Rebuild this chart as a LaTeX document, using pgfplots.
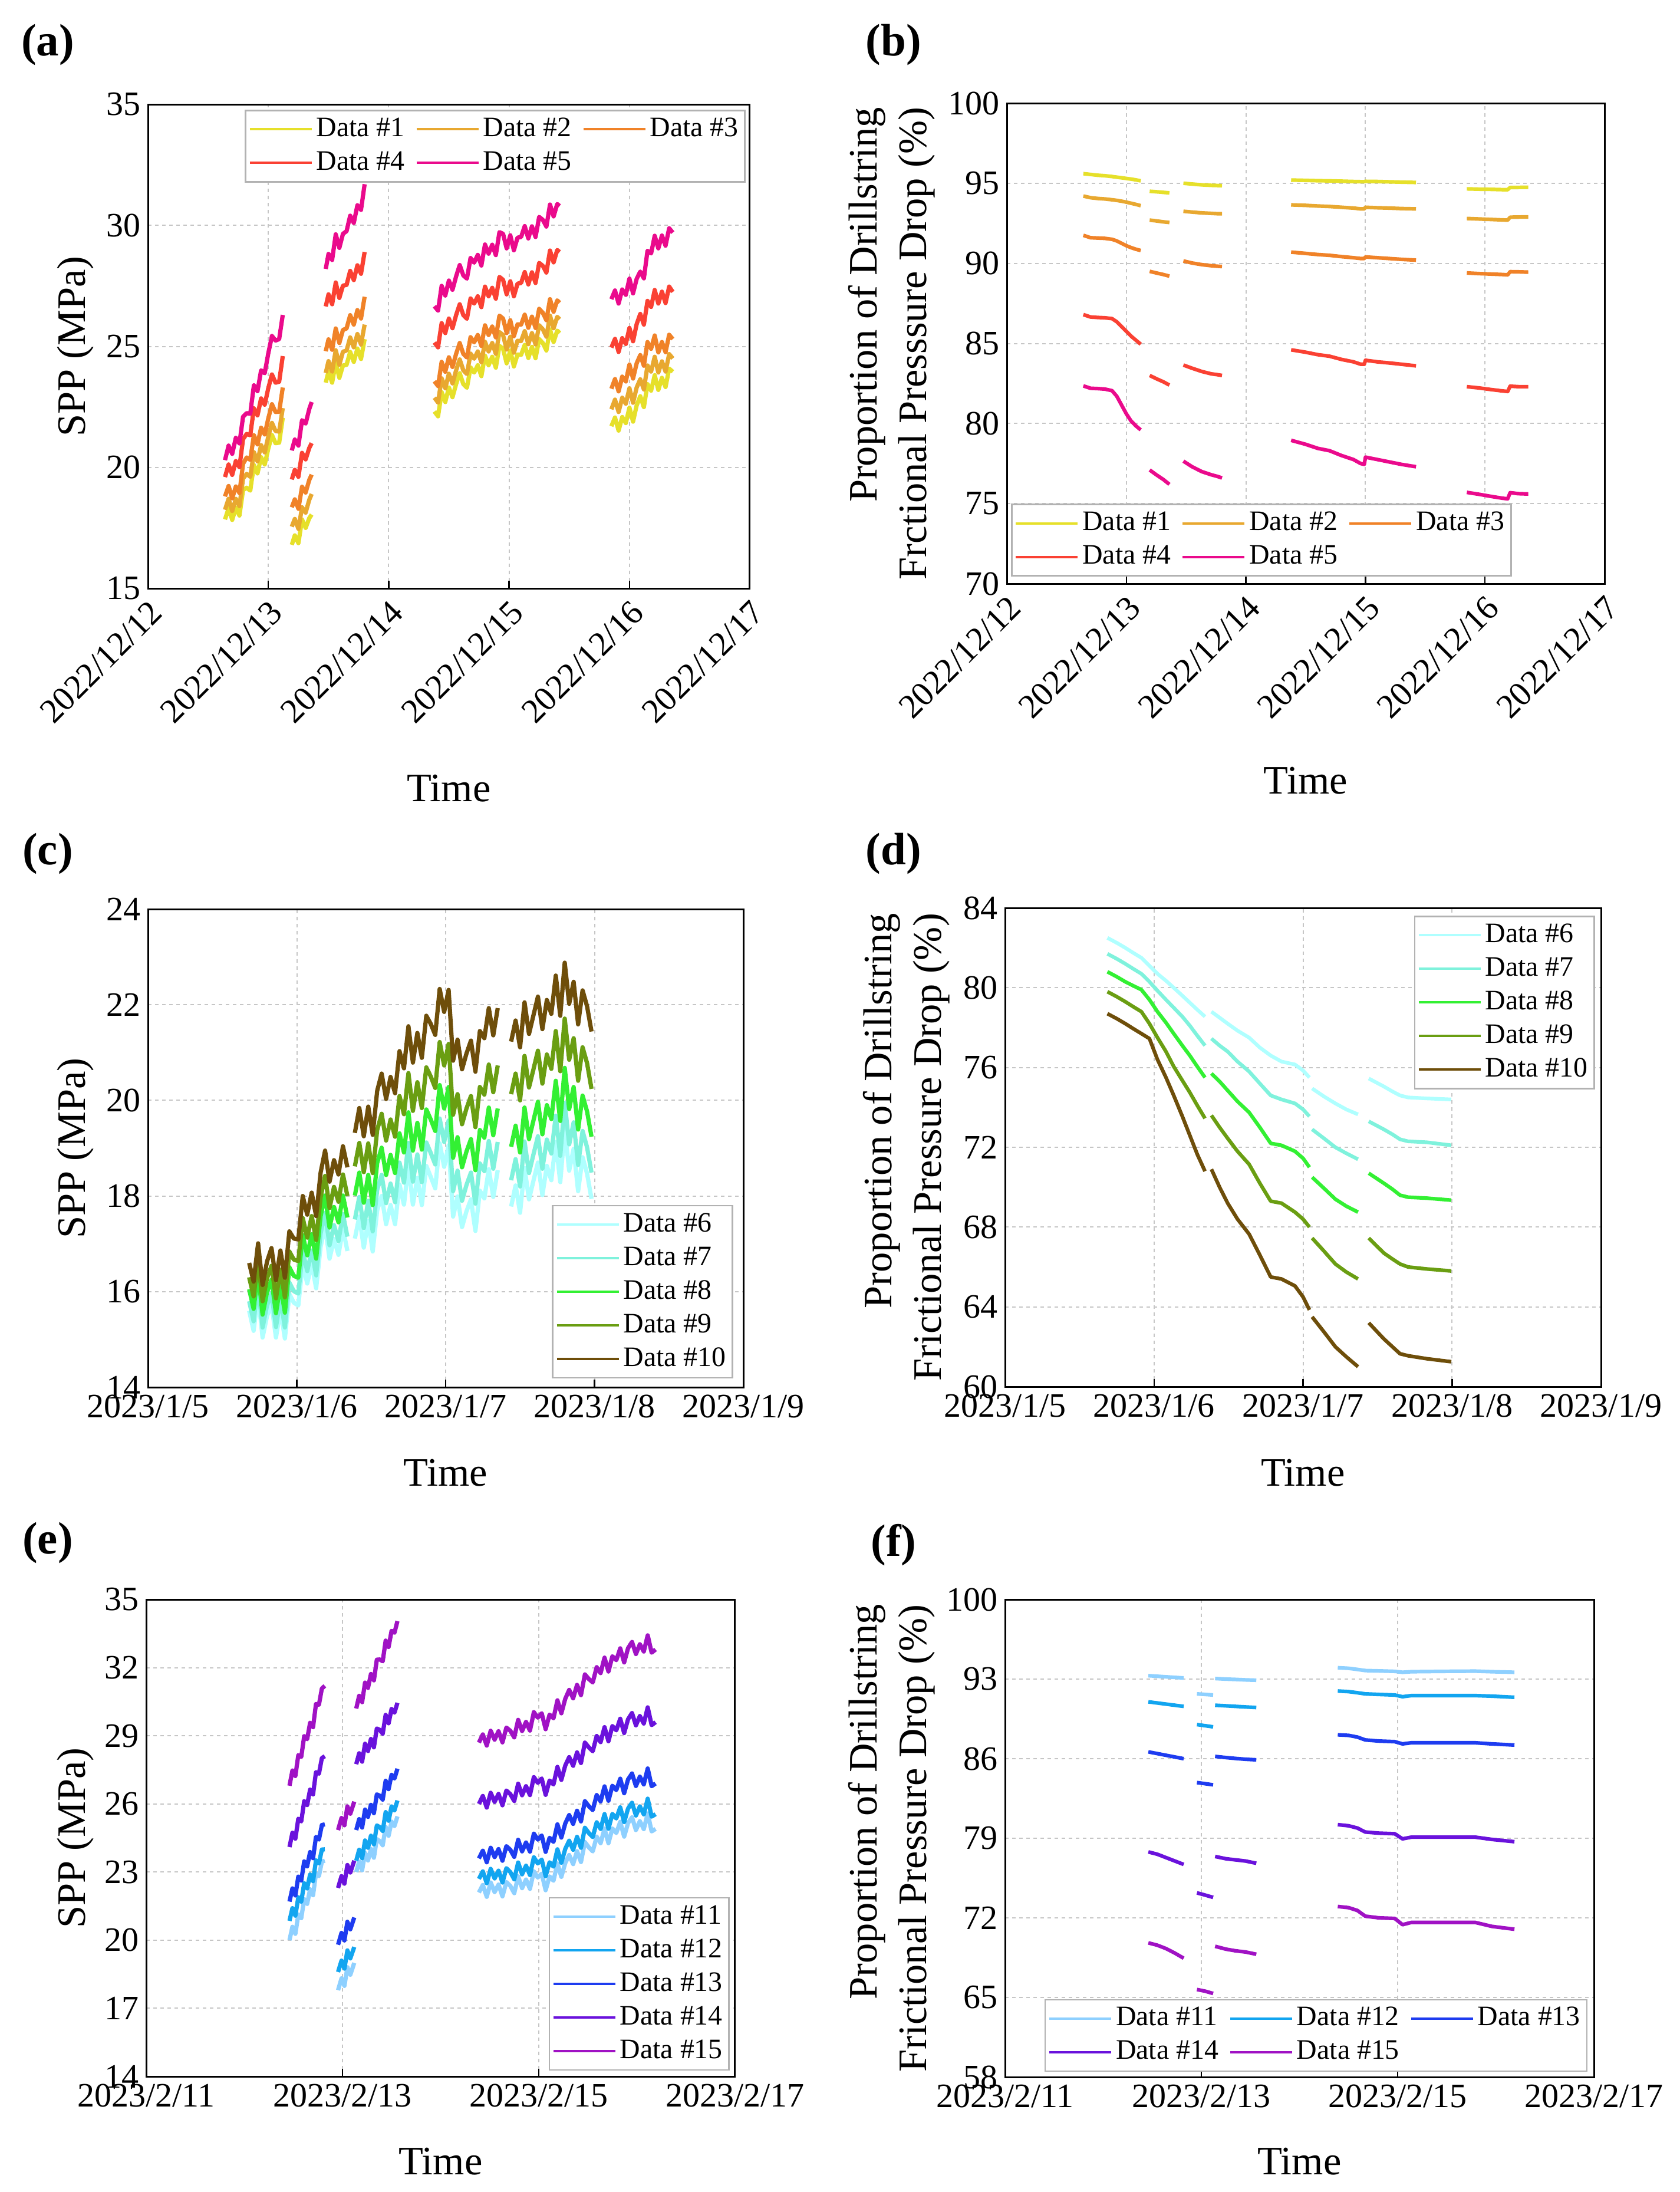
\documentclass[border=0pt]{standalone}
\usepackage{fontspec}
\setmainfont{Liberation Serif}
\usepackage{pgfplots}
\pgfplotsset{compat=1.18}
\usepackage{pgfplotstable}

\definecolor{cA}{HTML}{E6E02A}
\definecolor{cB}{HTML}{E8A830}
\definecolor{cC}{HTML}{F08228}
\definecolor{cD}{HTML}{FA4133}
\definecolor{cE}{HTML}{EA0A8C}
\definecolor{cF}{HTML}{AFFFFF}
\definecolor{cG}{HTML}{7FF2DC}
\definecolor{cH}{HTML}{33F033}
\definecolor{cI}{HTML}{6A9E12}
\definecolor{cJ}{HTML}{6E4E0A}
\definecolor{cK}{HTML}{8ED0FF}
\definecolor{cL}{HTML}{12A5F0}
\definecolor{cM}{HTML}{1E3CF0}
\definecolor{cN}{HTML}{6A12DC}
\definecolor{cO}{HTML}{A012C4}

\newcommand{\fTk}{\fontsize{16.5}{19}\selectfont}
\newcommand{\fLb}{\fontsize{19.5}{23.9}\selectfont}
\newcommand{\fLg}{\fontsize{13.6}{16}\selectfont}
\newcommand{\fPl}{\bfseries\fontsize{21.9}{25}\selectfont}

\pgfplotsset{
  panel/.style={
    scale only axis, anchor=north west,
    axis line style={line width=0.3mm},
    tick align=inside, xtick pos=lower, ytick pos=left,
    ytick style={draw=none},
    xtick style={line width=0.25mm, black},
    major tick length=1.3mm,
    grid=major,
    major grid style={draw=gray!45, line width=0.2mm, dash pattern=on 0.6mm off 0.6mm},
    tick label style={font=\fTk},
    label style={font=\fLb},
    /pgf/number format/assume math mode=true,
    unbounded coords=jump,
    legend cell align=left,
    legend image code/.code={\draw[##1, line width=0.4mm] (0mm,0mm) -- (10.5mm,0mm);},
    legend style={font=\fLg, draw=gray!60, line width=0.25mm, fill=white, inner sep=0.5mm,
       nodes={inner sep=0.6mm, text height=3.3mm, text depth=0.9mm},
       row sep=0.3mm,
       /tikz/every even column/.append style={column sep=1.2mm}},
    every axis plot/.append style={line width=0.62mm, line join=round},
    ylabel style={anchor=center},
    xlabel style={anchor=center},
  },
  noisy/.style={every axis plot/.append style={line width=0.72mm}},
}

% ---------- panel (a): columns e=#5 d=#4 c=#3 b=#2 a=#1
\pgfplotstableread{
x e d c b a
0.64 20.30 19.60 18.80 18.25 17.85
0.67 20.90 20.12 19.23 18.70 18.31
0.70 20.56 19.69 18.72 18.20 17.83
0.73 21.22 20.26 19.21 18.70 18.34
0.76 20.99 20.01 18.94 18.40 18.01
0.79 22.09 21.17 20.15 19.54 19.06
0.82 22.24 21.38 20.41 19.73 19.16
0.85 22.22 21.33 20.31 19.61 19.04
0.88 23.39 22.44 21.33 20.63 20.10
0.91 23.15 22.15 20.95 20.25 19.75
0.94 24.01 22.85 21.64 20.92 20.42
0.97 23.89 22.59 21.36 20.62 20.12
1.00 24.72 23.28 22.03 21.28 20.78
1.03 25.43 23.84 22.61 21.84 21.34
1.06 25.24 23.50 22.29 21.50 21.00
1.09 25.30 23.54 22.30 21.48 21.02
1.12 26.30 24.60 23.30 22.45 22.05
nan nan nan nan nan nan
1.195 20.70 19.50 18.35 17.55 16.80
1.22 21.15 19.90 18.68 17.87 17.19
1.25 20.90 19.61 18.29 17.46 16.87
1.28 21.95 20.60 19.20 18.35 17.85
1.31 21.81 20.33 18.96 18.13 17.50
1.34 22.41 20.80 19.48 18.66 17.90
1.36 22.70 21.00 19.70 18.90 18.05
nan nan nan nan nan nan
1.477 28.20 26.65 24.80 23.90 23.50
1.50 28.82 27.15 25.29 24.39 23.96
1.53 28.57 26.74 24.86 23.96 23.50
1.56 29.63 27.64 25.74 24.84 24.34
1.59 29.07 27.00 25.14 24.24 23.70
1.62 29.65 27.51 25.68 24.78 24.21
1.65 29.76 27.54 25.74 24.83 24.24
1.68 30.40 28.12 26.29 25.37 24.77
1.71 30.10 27.74 25.90 24.96 24.36
1.74 30.83 28.35 26.50 25.51 24.91
1.77 30.64 28.00 26.15 25.08 24.48
1.80 31.70 28.90 27.05 25.90 25.30
nan nan nan nan nan nan
2.38 26.66 25.16 23.56 22.88 22.31
2.41 26.48 24.96 23.36 22.68 22.11
2.44 27.50 25.96 24.36 23.68 23.11
2.47 27.10 25.55 23.95 23.27 22.70
2.50 27.72 26.15 24.55 23.87 23.30
2.53 27.34 25.75 24.15 23.47 22.90
2.56 27.89 26.29 24.69 24.01 23.44
2.59 28.36 26.74 25.14 24.46 23.89
2.62 27.93 26.29 24.69 24.01 23.44
2.65 27.80 26.14 24.54 23.86 23.29
2.68 28.65 26.98 25.38 24.70 24.13
2.71 28.46 26.77 25.17 24.49 23.92
2.74 28.78 27.07 25.47 24.79 24.22
2.77 28.34 26.62 25.02 24.34 23.77
2.80 29.21 27.47 25.87 25.19 24.62
2.83 28.83 27.07 25.47 24.79 24.22
2.86 29.20 27.42 25.82 25.14 24.57
2.89 28.77 26.97 25.37 24.69 24.12
2.92 29.72 27.87 26.27 25.59 25.02
2.95 29.65 27.75 26.15 25.47 24.90
2.98 29.05 27.15 25.55 24.87 24.30
3.01 29.59 27.69 26.08 25.40 24.83
3.04 28.97 27.07 25.42 24.74 24.17
3.07 29.49 27.59 25.91 25.23 24.66
3.10 29.52 27.62 25.90 25.22 24.65
3.13 29.97 28.07 26.31 25.63 25.06
3.16 29.46 27.56 25.77 25.09 24.52
3.19 29.96 28.06 26.23 25.55 24.98
3.22 29.52 27.62 25.76 25.08 24.51
3.25 30.35 28.45 26.55 25.87 25.30
3.28 30.23 28.33 26.39 25.71 25.14
3.31 29.95 28.05 26.08 25.40 24.83
3.34 30.86 28.96 26.95 26.27 25.70
3.37 30.37 28.47 26.43 25.75 25.18
3.40 30.88 28.98 26.90 26.22 25.65
3.42 30.80 28.90 26.80 26.12 25.55
nan nan nan nan nan nan
3.85 26.95 24.95 23.25 22.40 21.70
3.88 27.31 25.31 23.65 22.80 22.06
3.91 26.77 24.77 23.14 22.29 21.52
3.94 27.35 25.34 23.75 22.88 22.08
3.97 27.13 25.10 23.55 22.63 21.83
4.00 27.80 25.76 24.25 23.27 22.47
4.03 27.19 25.21 23.67 22.67 21.89
4.06 27.79 25.92 24.30 23.30 22.56
4.09 28.09 26.34 24.64 23.64 22.94
4.12 27.81 25.90 24.20 23.22 22.49
4.15 28.95 26.88 25.18 24.21 23.44
4.18 28.84 26.63 24.90 23.96 23.17
4.21 29.57 27.33 25.45 24.57 23.81
4.24 29.05 26.77 24.75 23.92 23.20
4.27 29.58 27.26 25.18 24.38 23.70
4.30 29.16 26.79 24.76 23.96 23.32
4.33 29.88 27.47 25.48 24.68 24.08
4.36 29.70 27.25 25.30 24.50 23.95
}\tabA

% ---------- panel (b): a=#1 ... e=#5
\pgfplotstableread{
x a b c d e
0.64 95.60 94.20 91.75 86.80 82.35
0.70 95.55 94.10 91.60 86.65 82.20
0.76 95.50 94.05 91.58 86.62 82.18
0.82 95.47 94.02 91.56 86.60 82.15
0.88 95.42 93.97 91.50 86.55 82.05
0.92 95.38 93.93 91.40 86.35 81.70
0.96 95.34 93.88 91.25 86.05 81.15
1.00 95.30 93.82 91.10 85.75 80.60
1.04 95.26 93.75 90.98 85.45 80.15
1.08 95.21 93.68 90.88 85.20 79.85
1.12 95.15 93.60 90.80 84.95 79.60
nan nan nan nan nan nan
1.195 94.50 92.70 89.50 83.00 77.10
1.25 94.47 92.65 89.40 82.80 76.80
1.31 94.43 92.59 89.30 82.60 76.50
1.36 94.40 92.55 89.20 82.40 76.20
nan nan nan nan nan nan
1.477 95.00 93.25 90.15 83.65 77.65
1.55 94.95 93.20 90.02 83.45 77.30
1.63 94.90 93.15 89.92 83.25 77.00
1.71 94.87 93.12 89.85 83.10 76.80
1.76 94.86 93.10 89.82 83.05 76.70
1.80 94.85 93.10 89.80 83.00 76.60
nan nan nan nan nan nan
2.378 95.20 93.65 90.70 84.60 78.95
2.50 95.18 93.62 90.62 84.45 78.70
2.60 95.16 93.58 90.55 84.30 78.45
2.70 95.15 93.55 90.50 84.20 78.30
2.80 95.13 93.50 90.42 84.00 78.00
2.90 95.11 93.45 90.35 83.85 77.75
2.96 95.10 93.40 90.30 83.70 77.50
2.99 95.10 93.40 90.30 83.70 77.45
3.00 95.12 93.50 90.40 83.95 77.90
3.10 95.11 93.47 90.35 83.85 77.75
3.20 95.09 93.45 90.30 83.78 77.60
3.30 95.07 93.42 90.25 83.70 77.45
3.423 95.05 93.40 90.20 83.60 77.30
nan nan nan nan nan nan
3.848 94.65 92.80 89.40 82.30 75.70
3.95 94.63 92.77 89.36 82.22 75.58
4.05 94.62 92.74 89.33 82.12 75.45
4.15 94.60 92.71 89.30 82.03 75.33
4.19 94.60 92.70 89.28 82.00 75.30
4.21 94.74 92.88 89.48 82.33 75.68
4.28 94.74 92.89 89.47 82.30 75.62
4.362 94.75 92.90 89.45 82.30 75.60
}\tabB

% ---------- panel (c): j=#10 i=#9 h=#8 g=#7 f=#6
\pgfplotstableread{
x j i h g f
0.68 16.60 16.30 16.05 15.80 15.60
0.71 16.21 15.90 15.64 15.38 15.18
0.74 17.01 16.68 16.41 16.15 15.94
0.77 16.14 15.80 15.52 15.25 15.04
0.80 16.63 16.28 15.99 15.71 15.49
0.83 16.91 16.54 16.25 15.96 15.74
0.86 16.24 15.86 15.55 15.26 15.04
0.89 16.86 16.46 16.15 15.85 15.62
0.92 16.29 15.88 15.56 15.25 15.02
0.95 17.26 16.84 16.51 16.19 15.95
0.98 17.11 16.67 16.33 16.01 15.77
1.01 17.09 16.64 16.29 15.96 15.71
1.04 18.00 17.54 17.18 16.85 16.59
1.07 17.61 17.13 16.76 16.43 16.17
1.10 18.07 17.58 17.20 16.86 16.59
1.13 17.58 17.08 16.69 16.34 16.07
1.16 18.49 17.97 17.58 17.22 16.94
1.19 18.95 18.42 18.01 17.65 17.37
1.22 18.30 17.75 17.34 16.97 16.69
1.25 18.75 18.19 17.77 17.39 17.10
1.28 18.45 17.88 17.45 17.06 16.77
1.31 19.04 18.45 18.01 17.62 17.32
1.34 18.60 18.00 17.55 17.15 16.85
nan nan nan nan nan nan
1.39 19.32 18.62 18.01 17.51 17.11
1.42 19.84 19.11 18.49 17.98 17.57
1.45 19.25 18.50 17.86 17.33 16.92
1.48 19.87 19.10 18.44 17.90 17.48
1.51 19.28 18.48 17.81 17.26 16.84
1.54 20.20 19.38 18.69 18.13 17.70
1.57 20.56 19.72 19.01 18.44 18.00
1.60 20.03 19.16 18.44 17.85 17.41
1.63 20.49 19.60 18.86 18.26 17.81
1.66 20.15 19.24 18.48 17.87 17.41
1.69 21.03 20.09 19.31 18.70 18.24
1.72 20.67 19.71 18.91 18.28 17.82
1.75 21.55 20.57 19.75 19.11 18.64
1.78 20.79 19.78 18.95 18.30 17.82
1.81 21.41 20.38 19.53 18.87 18.38
1.84 20.89 19.84 18.97 18.29 17.81
1.87 21.77 20.69 19.81 19.12 18.63
1.90 21.60 20.50 19.60 18.90 18.40
1.93 21.37 20.26 19.36 18.66 18.16
1.96 22.33 21.22 20.32 19.62 19.10
1.99 21.85 20.73 19.83 19.13 18.61
2.02 22.31 21.18 20.28 19.58 19.06
2.05 20.83 19.70 18.80 18.10 17.57
2.08 21.27 20.13 19.23 18.53 17.99
2.11 20.65 19.50 18.60 17.90 17.35
2.14 20.98 19.83 18.93 18.23 17.68
2.17 21.25 20.09 19.19 18.49 17.93
2.20 20.60 19.44 18.54 17.84 17.27
2.23 21.45 20.28 19.38 18.68 18.11
2.26 21.30 20.12 19.22 18.52 17.95
2.29 21.93 20.75 19.85 19.15 18.56
2.32 21.36 20.17 19.27 18.57 17.98
2.35 21.93 20.73 19.83 19.13 18.54
nan nan nan nan nan nan
2.44 21.23 20.13 19.03 18.33 17.78
2.47 21.67 20.56 19.47 18.77 18.22
2.50 21.11 20.00 18.91 18.20 17.65
2.53 22.05 20.93 19.85 19.14 18.59
2.56 21.39 20.27 19.19 18.48 17.93
2.59 21.78 20.65 19.58 18.87 18.32
2.62 22.17 21.04 19.97 19.25 18.70
2.65 21.49 20.35 19.29 18.57 18.02
2.68 22.10 20.96 19.90 19.18 18.63
2.71 21.81 20.66 19.61 18.89 18.33
2.74 22.61 21.45 20.41 19.68 19.13
2.77 21.77 20.61 19.57 18.84 18.29
2.80 22.88 21.71 20.68 19.95 19.40
2.83 22.02 20.85 19.82 19.08 18.53
2.86 22.48 21.30 20.28 19.54 18.99
2.89 21.59 20.41 19.39 18.65 18.10
2.92 22.30 21.11 20.10 19.36 18.81
2.95 21.97 20.78 19.77 19.02 18.47
2.98 21.44 20.24 19.24 18.49 17.94
}\tabC

% ---------- panel (d): f=#6 ... j=#10
\pgfplotstableread{
x f g h i j
0.687 82.50 81.70 80.80 79.80 78.70
0.75 82.25 81.45 80.55 79.55 78.45
0.807 82.00 81.20 80.30 79.30 78.20
0.86 81.75 80.95 80.10 79.05 77.95
0.915 81.50 80.70 79.90 78.80 77.70
0.969 81.10 80.30 79.40 78.20 77.45
1.023 80.70 79.85 78.80 77.50 76.40
1.08 80.35 79.40 78.25 76.80 75.50
1.132 80.00 79.00 77.70 76.05 74.60
1.19 79.60 78.55 77.10 75.35 73.55
1.240 79.25 78.10 76.60 74.75 72.60
1.29 78.90 77.60 76.05 74.10 71.65
1.342 78.55 77.10 75.50 73.45 70.80
nan nan nan nan nan nan
1.385 78.80 77.45 75.70 73.60 70.90
1.44 78.50 77.10 75.30 73.00 70.00
1.494 78.20 76.80 74.85 72.45 69.20
1.56 77.85 76.30 74.30 71.80 68.40
1.638 77.50 75.80 73.75 71.15 67.65
1.71 77.00 75.20 73.00 70.20 66.60
1.783 76.60 74.60 72.20 69.30 65.50
1.855 76.30 74.40 72.10 69.20 65.40
1.946 76.15 74.20 71.80 68.75 65.05
2.00 75.85 73.90 71.45 68.40 64.50
2.043 75.50 73.55 71.00 68.00 63.85
nan nan nan nan nan nan
2.061 74.95 72.90 70.50 67.45 63.50
2.14 74.55 72.45 69.95 66.80 62.75
2.217 74.20 72.00 69.40 66.15 62.00
2.29 73.90 71.70 69.05 65.75 61.50
2.369 73.65 71.40 68.75 65.40 61.00
nan nan nan nan nan nan
2.441 75.45 73.30 70.70 67.45 63.20
2.542 75.05 72.90 70.20 66.70 62.40
2.60 74.80 72.65 69.90 66.40 62.00
2.651 74.60 72.40 69.60 66.15 61.65
2.705 74.50 72.30 69.50 66.00 61.55
2.832 74.45 72.25 69.45 65.90 61.40
2.995 74.40 72.10 69.35 65.80 61.25
}\tabD

% ---------- panel (e): k=#11 l=#12 m=#13 n=#14 o=#15
\pgfplotstableread{
x k l m n o
1.46 20.00 20.85 21.70 24.10 26.80
1.49 20.59 21.41 22.28 24.73 27.47
1.52 20.28 21.08 21.97 24.47 27.23
1.55 21.13 21.89 22.80 25.35 28.15
1.58 20.97 21.70 22.63 25.23 28.07
1.61 21.81 22.51 23.47 26.12 28.98
1.64 21.60 22.28 23.25 25.95 28.85
1.67 22.24 22.89 23.88 26.63 29.57
1.70 21.98 22.60 23.61 26.42 29.38
1.73 22.93 23.51 24.55 27.40 30.40
1.76 22.82 23.38 24.43 27.33 30.37
1.79 23.46 23.99 25.07 28.02 31.08
1.82 23.50 24.00 25.10 28.10 31.20
nan nan nan nan nan nan
1.955 17.80 18.60 19.80 22.30 24.85
1.99 18.32 19.10 20.32 22.82 25.38
2.02 17.99 18.75 19.99 22.49 25.06
2.05 18.81 19.55 20.81 23.31 25.89
2.08 18.48 19.20 20.48 22.98 25.57
2.12 19.00 19.70 21.00 23.50 26.10
nan nan nan nan nan nan
2.14 23.00 23.50 24.85 27.75 30.20
2.17 23.46 23.98 25.33 28.23 30.76
2.20 23.08 23.61 24.96 27.86 30.48
2.23 23.84 24.39 25.75 28.65 31.34
2.26 23.51 24.07 25.43 28.33 31.11
2.29 24.02 24.60 25.96 28.86 31.72
2.32 23.63 24.22 25.59 28.49 31.44
2.35 24.45 25.05 26.42 29.32 32.35
2.38 24.36 24.98 26.36 29.26 32.36
2.41 24.18 24.81 26.19 29.09 32.28
2.44 24.99 25.64 27.02 29.92 33.19
2.47 24.60 25.26 26.65 29.55 32.91
2.50 25.22 25.89 27.28 30.18 33.62
2.53 25.03 25.72 27.12 30.02 33.54
2.56 25.45 26.15 27.55 30.45 34.05
nan nan nan nan nan nan
3.39 22.10 22.70 23.60 26.00 28.70
3.43 22.43 23.03 23.94 26.35 29.06
3.47 21.91 22.51 23.43 25.84 28.57
3.51 22.54 23.14 24.07 26.49 29.22
3.55 22.12 22.72 23.66 26.09 28.83
3.59 22.45 23.06 24.01 26.44 29.20
3.63 21.93 22.54 23.50 25.94 28.71
3.67 22.56 23.17 24.14 26.59 29.36
3.71 22.39 23.00 23.98 26.43 29.22
3.75 22.07 22.68 23.67 26.13 28.93
3.79 22.81 23.42 24.42 26.89 29.70
3.83 22.29 22.90 23.91 26.38 29.21
3.87 22.67 23.28 24.30 26.78 29.61
3.91 22.26 22.87 23.90 26.39 29.23
3.95 23.03 23.65 24.69 27.18 30.04
3.99 22.76 23.38 24.43 26.93 29.80
4.03 22.93 23.55 24.61 27.12 29.99
4.07 22.20 22.82 23.89 26.40 29.29
4.11 22.81 23.43 24.51 27.03 29.93
4.15 22.62 23.24 24.33 26.86 29.77
4.19 23.38 24.00 25.10 27.63 30.56
4.23 22.79 23.41 24.52 27.06 29.99
4.27 23.40 24.02 25.14 27.69 30.63
4.31 23.75 24.38 25.51 28.06 31.02
4.35 23.35 23.98 25.12 27.68 30.65
4.39 23.92 24.55 25.70 28.27 31.24
4.43 23.44 24.07 25.23 27.80 30.79
4.47 24.32 24.95 26.12 28.70 31.70
4.51 24.09 24.72 25.90 28.49 31.50
4.55 23.91 24.54 25.73 28.32 31.35
4.59 24.56 25.19 26.39 28.99 32.02
4.63 24.27 24.90 26.11 28.72 31.76
4.67 24.91 25.55 26.77 29.38 32.44
4.71 24.27 24.91 26.14 28.76 31.83
4.75 24.92 25.56 26.80 29.43 32.50
4.79 24.72 25.36 26.61 29.24 32.33
4.83 25.21 25.85 27.11 29.75 32.85
4.87 24.56 25.20 26.47 29.12 32.23
4.91 25.16 25.80 27.08 29.73 32.86
4.95 25.41 26.05 27.34 30.00 33.13
4.99 24.85 25.49 26.79 29.46 32.60
5.03 25.24 25.89 27.20 29.87 33.03
5.07 24.89 25.54 26.86 29.54 32.71
5.11 25.58 26.23 27.56 30.25 33.42
5.15 24.79 25.44 26.78 29.47 32.66
5.19 24.90 25.55 26.90 29.60 32.80
}\tabE

% ---------- panel (f): k=#11 ... o=#15
\pgfplotstableread{
x k l m n o
1.46 93.30 91.00 86.60 77.80 69.80
1.55 93.25 90.90 86.45 77.60 69.60
1.64 93.20 90.80 86.30 77.30 69.30
1.73 93.15 90.70 86.15 77.00 68.90
1.82 93.10 90.60 86.00 76.70 68.45
nan nan nan nan nan nan
1.955 91.70 89.00 83.90 74.20 65.70
2.04 91.65 88.90 83.80 74.00 65.55
2.12 91.60 88.80 83.70 73.80 65.35
nan nan nan nan nan nan
2.14 93.05 90.70 86.20 77.40 69.50
2.25 93.00 90.65 86.10 77.20 69.25
2.35 92.97 90.60 86.02 77.10 69.10
2.45 92.93 90.55 85.95 77.00 69.00
2.56 92.90 90.50 85.90 76.80 68.80
nan nan nan nan nan nan
3.39 94.00 91.95 88.10 80.20 73.00
3.50 93.95 91.90 88.05 80.10 72.90
3.59 93.85 91.80 87.90 79.90 72.65
3.67 93.75 91.70 87.65 79.55 72.15
3.81 93.72 91.65 87.55 79.45 72.00
3.97 93.68 91.60 87.50 79.40 71.95
4.05 93.60 91.45 87.30 78.95 71.40
4.14 93.65 91.55 87.40 79.10 71.60
4.47 93.68 91.55 87.40 79.10 71.60
4.79 93.70 91.55 87.40 79.10 71.60
4.96 93.65 91.50 87.30 78.90 71.25
5.19 93.60 91.40 87.20 78.70 71.00
}\tabF

\begin{document}
\begin{tikzpicture}
\path[use as bounding box] (0,0) rectangle (285mm,-371.8mm);

\node[font=\fPl] at (8.1mm,-7.6mm) {(a)};
\node[font=\fPl] at (151.6mm,-7.6mm) {(b)};
\node[font=\fPl] at (8.1mm,-144.8mm) {(c)};
\node[font=\fPl] at (151.6mm,-144.8mm) {(d)};
\node[font=\fPl] at (8.1mm,-261.7mm) {(e)};
\node[font=\fPl] at (151.6mm,-262.1mm) {(f)};

% (a)
\begin{axis}[panel, noisy, at={(25.1mm,-17.7mm)}, width=102.1mm, height=82.1mm,
  xmin=0, xmax=5, ymin=15, ymax=35, xtick={0,1,2,3,4,5}, ytick={15,20,25,30,35},
  xticklabels={2022/12/12,2022/12/13,2022/12/14,2022/12/15,2022/12/16,2022/12/17},
  x tick label style={rotate=45, anchor=north east},
  xlabel={Time}, ylabel={SPP (MPa)},
  xlabel style={at={(axis description cs:0.5,-0.413)}},
  ylabel style={at={(axis description cs:-0.12,0.5)}},
  legend columns=3,
  legend style={at={(0.993,0.989)}, anchor=north east}]
\addplot[cA] table[x=x,y=a]{\tabA}; \addlegendentry{Data \#1}
\addplot[cB] table[x=x,y=b]{\tabA}; \addlegendentry{Data \#2}
\addplot[cC] table[x=x,y=c]{\tabA}; \addlegendentry{Data \#3}
\addplot[cD] table[x=x,y=d]{\tabA}; \addlegendentry{Data \#4}
\addplot[cE] table[x=x,y=e]{\tabA}; \addlegendentry{Data \#5}
\end{axis}

% (b)
\begin{axis}[panel, at={(170.8mm,-17.5mm)}, width=101.4mm, height=81.5mm,
  xmin=0, xmax=5, ymin=70, ymax=100, xtick={0,1,2,3,4,5}, ytick={70,75,80,85,90,95,100},
  xticklabels={2022/12/12,2022/12/13,2022/12/14,2022/12/15,2022/12/16,2022/12/17},
  x tick label style={rotate=45, anchor=north east},
  xlabel={Time}, ylabel={Proportion of Drillstring\\Frctional Presssure Drop (\%)},
  xlabel style={at={(axis description cs:0.5,-0.41)}},
  ylabel style={at={(axis description cs:-0.193,0.5)}, align=right},
  legend columns=3,
  legend style={at={(0.007,0.015)}, anchor=south west}]
\addplot[cA] table[x=x,y=a]{\tabB}; \addlegendentry{Data \#1}
\addplot[cB] table[x=x,y=b]{\tabB}; \addlegendentry{Data \#2}
\addplot[cC] table[x=x,y=c]{\tabB}; \addlegendentry{Data \#3}
\addplot[cD] table[x=x,y=d]{\tabB}; \addlegendentry{Data \#4}
\addplot[cE] table[x=x,y=e]{\tabB}; \addlegendentry{Data \#5}
\end{axis}

% (c)
\begin{axis}[panel, noisy, at={(25.1mm,-154.2mm)}, width=101.0mm, height=81.1mm,
  xmin=0, xmax=4, ymin=14, ymax=24, xtick={0,1,2,3,4}, ytick={14,16,18,20,22,24},
  xticklabels={2023/1/5,2023/1/6,2023/1/7,2023/1/8,2023/1/9},
  xlabel={Time}, ylabel={SPP (MPa)},
  xlabel style={at={(axis description cs:0.5,-0.179)}},
  ylabel style={at={(axis description cs:-0.122,0.5)}},
  legend style={at={(0.983,0.018)}, anchor=south east}]
\addplot[cF] table[x=x,y=f]{\tabC}; \addlegendentry{Data \#6}
\addplot[cG] table[x=x,y=g]{\tabC}; \addlegendentry{Data \#7}
\addplot[cH] table[x=x,y=h]{\tabC}; \addlegendentry{Data \#8}
\addplot[cI] table[x=x,y=i]{\tabC}; \addlegendentry{Data \#9}
\addplot[cJ] table[x=x,y=j]{\tabC}; \addlegendentry{Data \#10}
\end{axis}

% (d)
\begin{axis}[panel, at={(170.5mm,-154.0mm)}, width=101.1mm, height=81.2mm,
  xmin=0, xmax=4, ymin=60, ymax=84, xtick={0,1,2,3,4}, ytick={60,64,68,72,76,80,84},
  xticklabels={2023/1/5,2023/1/6,2023/1/7,2023/1/8,2023/1/9},
  xlabel={Time}, ylabel={Proportion of Drillstring\\Frictional Pressure Drop (\%)},
  xlabel style={at={(axis description cs:0.5,-0.18)}},
  ylabel style={at={(axis description cs:-0.166,0.5)}, align=right},
  legend style={at={(0.99,0.984)}, anchor=north east}]
\addplot[cF] table[x=x,y=f]{\tabD}; \addlegendentry{Data \#6}
\addplot[cG] table[x=x,y=g]{\tabD}; \addlegendentry{Data \#7}
\addplot[cH] table[x=x,y=h]{\tabD}; \addlegendentry{Data \#8}
\addplot[cI] table[x=x,y=i]{\tabD}; \addlegendentry{Data \#9}
\addplot[cJ] table[x=x,y=j]{\tabD}; \addlegendentry{Data \#10}
\end{axis}

% (e)
\begin{axis}[panel, noisy, at={(24.8mm,-271.3mm)}, width=99.9mm, height=80.9mm,
  xmin=0, xmax=6, ymin=14, ymax=35, xtick={0,2,4,6}, ytick={14,17,20,23,26,29,32,35},
  xticklabels={2023/2/11,2023/2/13,2023/2/15,2023/2/17},
  xlabel={Time}, ylabel={SPP (MPa)},
  xlabel style={at={(axis description cs:0.5,-0.178)}},
  ylabel style={at={(axis description cs:-0.12,0.5)}},
  legend style={at={(0.991,0.012)}, anchor=south east}]
\addplot[cK] table[x=x,y=k]{\tabE}; \addlegendentry{Data \#11}
\addplot[cL] table[x=x,y=l]{\tabE}; \addlegendentry{Data \#12}
\addplot[cM] table[x=x,y=m]{\tabE}; \addlegendentry{Data \#13}
\addplot[cN] table[x=x,y=n]{\tabE}; \addlegendentry{Data \#14}
\addplot[cO] table[x=x,y=o]{\tabE}; \addlegendentry{Data \#15}
\end{axis}

% (f)
\begin{axis}[panel, at={(170.5mm,-271.3mm)}, width=99.9mm, height=81.0mm,
  xmin=0, xmax=6, ymin=58, ymax=100, xtick={0,2,4,6}, ytick={58,65,72,79,86,93,100},
  xticklabels={2023/2/11,2023/2/13,2023/2/15,2023/2/17},
  xlabel={Time}, ylabel={Proportion of Drillstring\\Frictional Pressure Drop (\%)},
  xlabel style={at={(axis description cs:0.5,-0.177)}},
  ylabel style={at={(axis description cs:-0.193,0.5)}, align=right},
  legend columns=3,
  legend style={at={(0.989,0.011)}, anchor=south east}]
\addplot[cK] table[x=x,y=k]{\tabF}; \addlegendentry{Data \#11}
\addplot[cL] table[x=x,y=l]{\tabF}; \addlegendentry{Data \#12}
\addplot[cM] table[x=x,y=m]{\tabF}; \addlegendentry{Data \#13}
\addplot[cN] table[x=x,y=n]{\tabF}; \addlegendentry{Data \#14}
\addplot[cO] table[x=x,y=o]{\tabF}; \addlegendentry{Data \#15}
\end{axis}
\end{tikzpicture}
\end{document}
